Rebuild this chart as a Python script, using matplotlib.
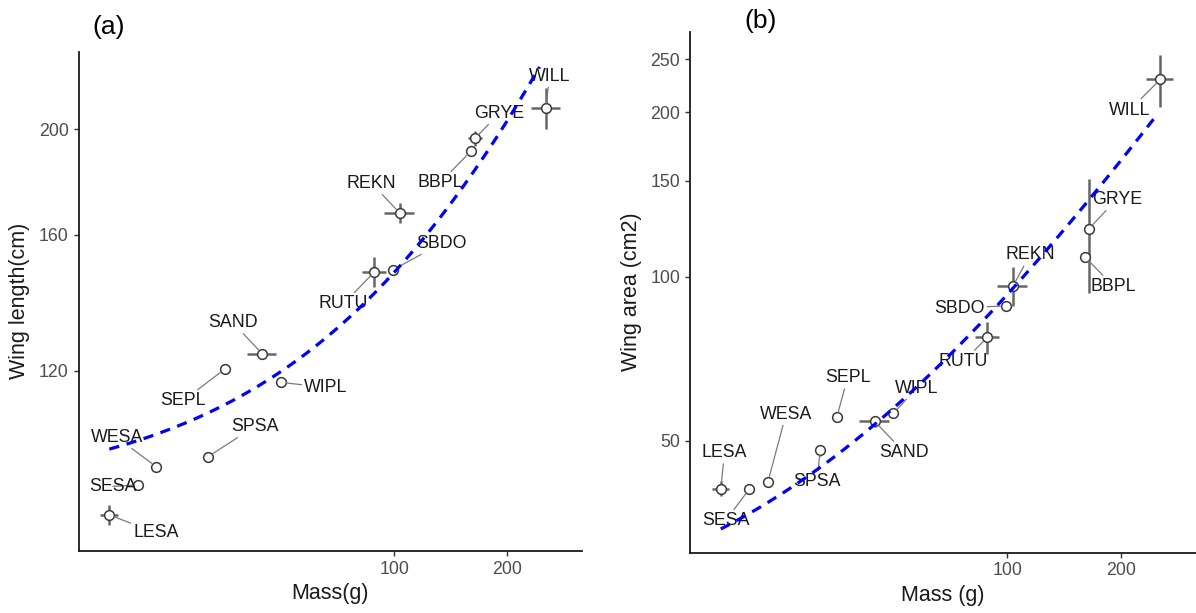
import numpy as np
import matplotlib.pyplot as plt
from matplotlib.ticker import FixedLocator, FixedFormatter, NullLocator

plt.rcParams['font.family'] = ['Liberation Sans', 'DejaVu Sans']

species = ['LESA', 'SESA', 'WESA', 'SPSA', 'SEPL', 'SAND', 'WIPL',
           'RUTU', 'SBDO', 'REKN', 'BBPL', 'GRYE', 'WILL']
mass = [17.4, 20.7, 23.2, 31.9, 35.3, 44.5, 49.9, 88.5, 99.0, 103.5, 160.3, 164.2, 254.0]

# (a) wing length
wing_len = [88.5, 94.3, 98.0, 100.1, 120.4, 124.4, 117.1, 147.9, 148.5, 167.5, 191.0, 196.2, 209.0]
mass_err_a = [0.95, 0, 0, 0, 0, 4.0, 0, 6.3, 0, 9.5, 0, 6.8, 22]
len_err = [1.9, 0, 0, 0, 0, 1.3, 0, 4.7, 0, 3.6, 0, 3.2, 9]
lab_a_x = [23.2, 17.8, 18.2, 42.5, 27.3, 37.1, 65.8, 73.3, 133.9, 87.0, 132.5, 190.7, 259]
lab_a_y = [85.2, 94.0, 104.3, 106.7, 112.6, 132.9, 115.9, 138.3, 157.2, 178.4, 178.6, 206.9, 223.8]
fit_a = (92.0, 0.558)   # intercept, slope

# (b) wing area
wing_area = [40.9, 40.8, 42.1, 48.1, 55.2, 54.3, 56.2, 77.4, 88.4, 96.2, 108.8, 122.3, 229.8]
mass_err_b = [0.9, 0, 0, 0, 0, 4.0, 0, 6.3, 0, 9.5, 0, 0, 21]
area_err = [1.3, 0, 0, 1.1, 0, 1.2, 0, 5.3, 0, 8.0, 0, 29, 25]
lab_b_x = [17.8, 17.9, 25.9, 31.3, 37.7, 53.3, 57.5, 76.4, 74.5, 114.8, 191.3, 194.8, 211]
lab_b_y = [47.6, 35.7, 56.0, 42.1, 65.3, 47.6, 62.5, 69.9, 87.6, 109.6, 95.9, 138.6, 202]
fit_b = (22.2, 0.706)

fit_range = (17.4, 244)


def panel(ax, y, xerr, yerr, lx, ly, fit, ylim, yticks):
    ax.set_xscale('log')
    ax.set_yscale('log')
    ax.errorbar(mass, y, xerr=xerr, yerr=yerr, fmt='none', ecolor='#666666',
                elinewidth=1.8, capsize=0, zorder=2)
    ax.plot(mass, y, 'o', ms=7, mfc='white', mec='#3a3a3a', mew=1.1, zorder=3)
    for name, px, py, tx, ty in zip(species, mass, y, lx, ly):
        ax.annotate(name, xy=(px, py), xytext=(tx, ty), ha='center', va='center',
                    fontsize=12.8, color='#1a1a1a', zorder=4,
                    arrowprops=dict(arrowstyle='-', color='#7a7a7a', lw=0.9,
                                    shrinkA=0, shrinkB=4))
    xs = np.linspace(fit_range[0], fit_range[1], 200)
    line, = ax.plot(xs, fit[0] + fit[1] * xs, color='#0000ff', lw=2.3, zorder=5)
    line.set_dashes((3.2, 2.4))
    ax.set_xlim(14.4, 316)
    ax.set_ylim(*ylim)
    for axis, ticks in ((ax.xaxis, [100, 200]), (ax.yaxis, yticks)):
        axis.set_major_locator(FixedLocator(ticks))
        axis.set_major_formatter(FixedFormatter([str(t) for t in ticks]))
        axis.set_minor_locator(NullLocator())
    ax.tick_params(labelsize=12.8, labelcolor='#4d4d4d', color='#333333',
                   length=3.5, width=1)
    for s in ('top', 'right'):
        ax.spines[s].set_visible(False)
    for s in ('left', 'bottom'):
        ax.spines[s].set_linewidth(1.3)
        ax.spines[s].set_color('#1a1a1a')


fig = plt.figure(figsize=(11.96, 6.13), dpi=100)
W, H = 1196, 613
ax1 = fig.add_axes([78.5 / W, 1 - 551 / H, (581.7 - 78.5) / W, (551 - 51.7) / H])
ax2 = fig.add_axes([689.8 / W, 1 - 552.7 / H, (1196 - 689.8) / W, (552.7 - 32.3) / H])

panel(ax1, wing_len, mass_err_a, len_err, lab_a_x, lab_a_y, fit_a,
      (82.0, 235.6), [120, 160, 200])
panel(ax2, wing_area, mass_err_b, area_err, lab_b_x, lab_b_y, fit_b,
      (31.2, 280.4), [50, 100, 150, 200, 250])

fig.text(109 / W, 1 - 27 / H, '(a)', fontsize=19, ha='center', va='center')
fig.text(761 / W, 1 - 21 / H, '(b)', fontsize=19, ha='center', va='center')
fig.text(20 / W, 1 - 301 / H, 'Wing length(cm)', fontsize=15.5, rotation=90,
         ha='center', va='center', color='#1a1a1a')
fig.text(632 / W, 1 - 292 / H, 'Wing area (cm2)', fontsize=15.5, rotation=90,
         ha='center', va='center', color='#1a1a1a')
fig.text(330 / W, 1 - 594 / H, 'Mass(g)', fontsize=15.5, ha='center', va='center',
         color='#1a1a1a')
fig.text(943 / W, 1 - 596 / H, 'Mass (g)', fontsize=15.5, ha='center', va='center',
         color='#1a1a1a')

fig.savefig('out.png', dpi=100)
